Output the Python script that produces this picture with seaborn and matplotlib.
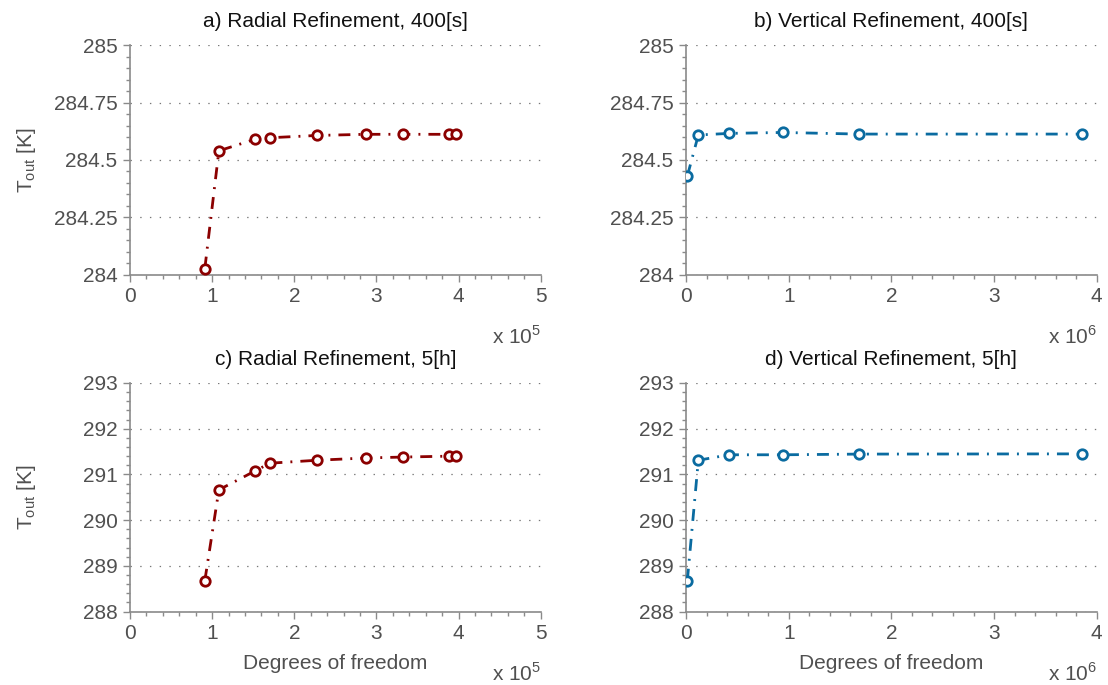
import matplotlib
matplotlib.use("Agg")
import matplotlib.pyplot as plt
from matplotlib.ticker import MultipleLocator, AutoMinorLocator, FuncFormatter
import seaborn as sns

# Mesh-refinement study: outlet temperature vs. degrees of freedom
radial_dof = [0.911e5, 1.082e5, 1.520e5, 1.703e5, 2.272e5, 2.872e5, 3.319e5, 3.887e5, 3.965e5]
vertical_dof = [0.013e6, 0.12e6, 0.42e6, 0.94e6, 1.685e6, 3.853e6]

radial_400s = [284.027, 284.540, 284.590, 284.597, 284.607, 284.612, 284.612, 284.612, 284.614]
vertical_400s = [284.430, 284.609, 284.616, 284.620, 284.613, 284.613]

radial_5h = [288.677, 290.664, 291.073, 291.246, 291.31, 291.36, 291.38, 291.40, 291.40]
vertical_5h = [288.677, 291.31, 291.43, 291.43, 291.445, 291.45]

titles = ["a) Radial Refinement, 400[s]", "b) Vertical Refinement, 400[s]",
          "c) Radial Refinement, 5[h]", "d) Vertical Refinement, 5[h]"]
top_yticks = [284, 284.25, 284.5, 284.75, 285]
bottom_yticks = [288, 289, 290, 291, 292, 293]

sns.set_theme(style="white")
plt.rcParams["font.family"] = ["Liberation Sans", "DejaVu Sans"]
plt.rcParams["mathtext.fontset"] = "custom"
plt.rcParams["mathtext.rm"] = "Liberation Sans"
plt.rcParams["lines.scale_dashes"] = False

RED = "#8b0000"
BLUE = "#0a6ba0"
GREY = "#505050"
SPINE = "#8a8a8a"
FS = 15

fig = plt.figure(figsize=(11.08, 6.85), dpi=100)
W, H = 1108, 685
def axes_px(x0, y0, x1, y1):
    return fig.add_axes([x0 / W, 1 - y1 / H, (x1 - x0) / W, (y1 - y0) / H])

ax_a = axes_px(130, 45.3, 540.7, 274.7)
ax_b = axes_px(686, 45.3, 1096.8, 274.7)
ax_c = axes_px(130, 383, 540.7, 611.6)
ax_d = axes_px(686, 383, 1096.8, 611.6)

dash = (0, (8.6, 5.8, 1.4, 5.8))
panels = [
    (ax_a, radial_dof, radial_400s, RED, (0, 5e5), 1e5, top_yticks, 5),
    (ax_b, vertical_dof, vertical_400s, BLUE, (0, 4e6), 1e6, top_yticks, 6),
    (ax_c, radial_dof, radial_5h, RED, (0, 5e5), 1e5, bottom_yticks, 5),
    (ax_d, vertical_dof, vertical_5h, BLUE, (0, 4e6), 1e6, bottom_yticks, 6),
]

def fmt_y(v, pos):
    return f"{v:.2f}".rstrip("0").rstrip(".")

for i, (ax, xs, ys, col, xlim, scale, yticks, exp) in enumerate(panels):
    sns.lineplot(x=xs, y=ys, ax=ax, color=col, linestyle=dash, linewidth=2.0,
                 marker="o", markersize=6.8, markerfacecolor="white",
                 markeredgecolor=col, markeredgewidth=2.0, sort=False,
                 estimator=None, zorder=3)
    ax.set_xlim(*xlim)
    ax.set_ylim(yticks[0], yticks[-1])
    ax.set_yticks(yticks)
    ax.yaxis.set_major_formatter(FuncFormatter(fmt_y))
    ax.xaxis.set_major_locator(MultipleLocator(scale))
    ax.xaxis.set_major_formatter(FuncFormatter(lambda v, p, s=scale: f"{v / s:.0f}"))
    ax.xaxis.set_minor_locator(AutoMinorLocator(5))
    ax.yaxis.set_minor_locator(AutoMinorLocator(5))
    ax.grid(True, axis="y", which="major", linestyle=(0, (1, 6)), color="#777777", linewidth=0.9)
    ax.set_axisbelow(True)
    for side in ["top", "right"]:
        ax.spines[side].set_visible(False)
    for side in ["left", "bottom"]:
        ax.spines[side].set_color(SPINE)
        ax.spines[side].set_linewidth(1.2)
    ax.tick_params(which="major", direction="out", length=5, width=1.0, color=SPINE,
                   labelsize=FS, labelcolor=GREY, left=True, bottom=True, pad=4)
    ax.tick_params(which="minor", direction="out", length=3, width=1.0, color=SPINE,
                   left=True, bottom=True)
    ax.set_title(titles[i], fontsize=FS, color="#111111", pad=13)
    ax.text(1.0, -0.27, rf"x 10$^{{{exp}}}$", transform=ax.transAxes, ha="right",
            va="center", fontsize=FS, color=GREY)
    if i % 2 == 0:
        ax.set_ylabel(r"T$_{\mathrm{out}}$ [K]", fontsize=FS, color=GREY)
        ax.yaxis.set_label_coords(-0.225, 0.5)
    if i >= 2:
        ax.set_xlabel("Degrees of freedom", fontsize=FS, color=GREY, labelpad=8)

fig.savefig("out.png", dpi=100, facecolor="white")
